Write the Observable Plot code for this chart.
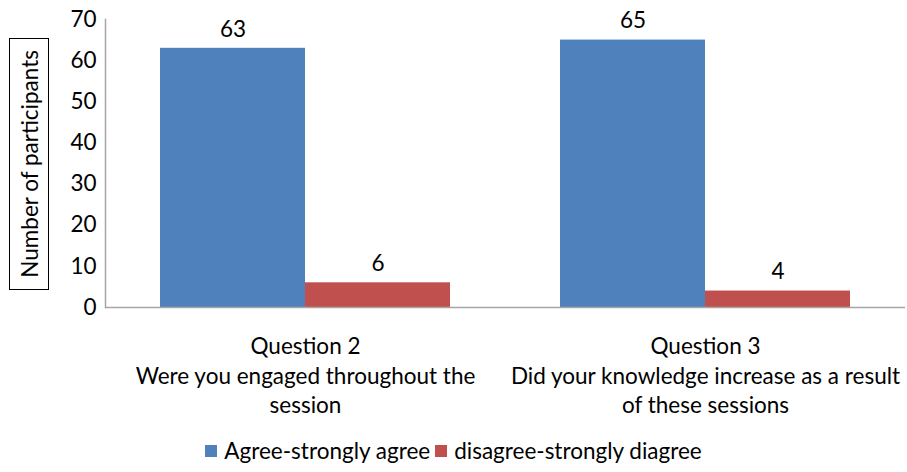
<!DOCTYPE html>
<html>
<head>
<meta charset="utf-8">
<script src="https://cdn.jsdelivr.net/npm/d3@7"></script>
<script src="https://cdn.jsdelivr.net/npm/@observablehq/plot@0.6"></script>
<style>
  html, body { margin: 0; padding: 0; background: #fff; }
  #wrap { position: relative; width: 907px; height: 472px; font-family: Lato, "Open Sans", sans-serif; color: #000; }
  #chart { position: absolute; left: 0; top: 0; }
  #ylabel {
    position: absolute; left: 9px; top: 38px; width: 38px; height: 250px;
    border: 1.5px solid #000; display: flex; align-items: center; justify-content: center;
  }
  #ylabel span { writing-mode: vertical-rl; transform: rotate(180deg); font-size: 22.5px; white-space: nowrap; }
  #legend { position: absolute; left: 0; top: 437px; width: 907px; display: flex; justify-content: center; font-size: 22.5px; }
  .item { display: flex; align-items: center; }
  .sw { width: 12px; height: 12px; margin-right: 7px; }
</style>
</head>
<body>
<div id="wrap">
  <div id="chart"></div>
  <div id="ylabel"><span>Number of participants</span></div>
  <div id="legend"></div>
</div>
<script>
// Survey responses per question
const questions = ["Question 2", "Question 3"];
const questionText = [
  "Question 2\nWere you engaged throughout the\nsession",
  "Question 3\nDid your knowledge increase as a result\nof these sessions"
];
const series = ["Agree-strongly agree", "disagree-strongly diagree"];
const agreeCounts = [63, 65];
const disagreeCounts = [6, 4];
const yTicks = [0, 10, 20, 30, 40, 50, 60, 70];
const colors = ["#4F81BD", "#C0504D"];

const rows = questions.flatMap((q, i) => [
  {question: q, series: series[0], value: agreeCounts[i]},
  {question: q, series: series[1], value: disagreeCounts[i]}
]);

const FS = 22.5;
const H = 432;
const chart = Plot.plot({
  width: 907,
  height: H,
  marginTop: 19,
  marginBottom: H - 307,
  marginLeft: 104,
  marginRight: 2,
  style: {fontFamily: "Lato, 'Open Sans', sans-serif", fontSize: FS + "px", color: "#000"},
  fx: {domain: questions, padding: 0, label: null},
  x: {domain: series, paddingInner: 0, paddingOuter: 0.373, axis: null},
  y: {domain: [0, 70], ticks: yTicks, label: null, axis: null},
  color: {domain: series, range: colors},
  marks: [
    Plot.axisY({ticks: yTicks, tickSize: 0, tickPadding: 9, label: null, fontSize: FS, facetAnchor: "left"}),
    Plot.barY(rows, {fx: "question", x: "series", y: "value", fill: "series"}),
    Plot.text(rows, {fx: "question", x: "series", y: "value", text: d => String(d.value), dy: -19, fontSize: FS, fill: "#000"}),
    Plot.ruleY([0], {stroke: "#a6a6a6", strokeWidth: 1.5}),
    Plot.frame({anchor: "left", facetAnchor: "left", stroke: "#a6a6a6", strokeWidth: 1.5}),
    Plot.axisFx({
      anchor: "bottom", tickSize: 0, tickPadding: 26, label: null,
      tickFormat: q => questionText[questions.indexOf(q)],
      lineHeight: 1.31, fontSize: FS
    })
  ]
});
document.getElementById("chart").append(chart);

const legend = document.getElementById("legend");
series.forEach((s, i) => {
  const item = document.createElement("div");
  item.className = "item";
  item.style.marginRight = i === 0 ? "5px" : "0";
  const sw = document.createElement("div");
  sw.className = "sw";
  sw.style.background = colors[i];
  const label = document.createElement("span");
  label.textContent = s;
  item.append(sw, label);
  legend.append(item);
});
</script>
</body>
</html>
